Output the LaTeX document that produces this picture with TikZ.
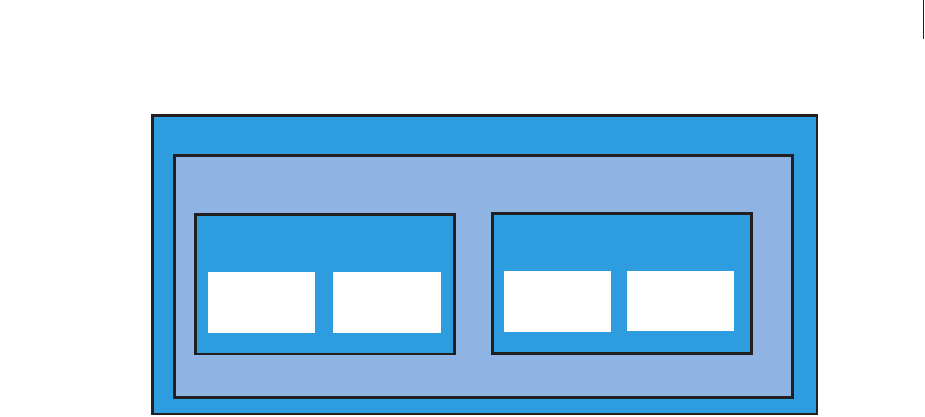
\documentclass[tikz,border=0pt]{standalone}
\definecolor{bluefill}{HTML}{2D9DDF}
\definecolor{lightfill}{HTML}{8FB4E3}
\definecolor{edge}{HTML}{231F20}
\begin{document}
\begin{tikzpicture}[x=1pt,y=-1pt,
  box/.style={draw=edge,line width=2.7pt},
  outerbox/.style={box,fill=bluefill},
  innerbox/.style={box,fill=lightfill},
  groupbox/.style={box,fill=bluefill},
  slot/.style={fill=white}]
\useasboundingbox (0,0) rectangle (925,416);
\draw[outerbox] (152.5,115.5) rectangle (817,414) coordinate (outer);
\draw[innerbox] (174.7,155.3) rectangle (792.3,397.3) coordinate (inner);
\draw[groupbox] (195.3,214.5) rectangle (454.2,354) coordinate (g1);
\draw[groupbox] (492.5,213.5) rectangle (751.3,353.3) coordinate (g2);
\fill[slot] (208,272) rectangle (315,332.7) coordinate (s1);
\fill[slot] (333,272) rectangle (441,332.7) coordinate (s2);
\fill[slot] (504,271) rectangle (611,331.7) coordinate (s3);
\fill[slot] (627,271) rectangle (734,331) coordinate (s4);
\coordinate (mt) at (923.5,0);
\coordinate (mb) at (923.5,39);
\draw[edge,line width=1.5pt] (mt) -- (mb);
\end{tikzpicture}
\end{document}
